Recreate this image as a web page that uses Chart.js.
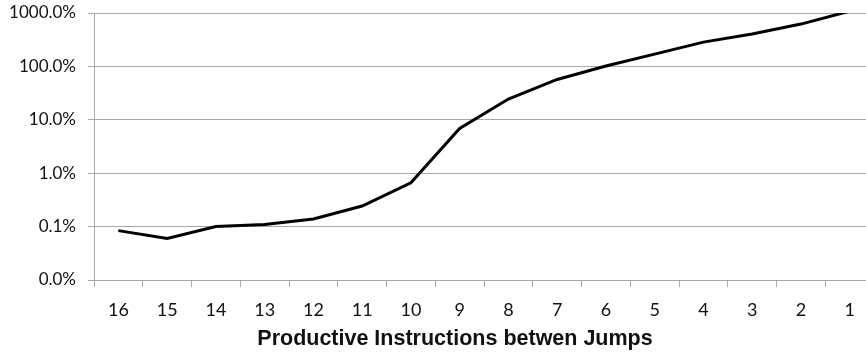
<!DOCTYPE html>
<html>
<head>
<meta charset="utf-8">
<script src="https://cdn.jsdelivr.net/npm/chart.js@4/dist/chart.umd.min.js"></script>
<style>
  html, body { margin: 0; padding: 0; background: #fff; overflow: hidden; }
  #wrap { width: 880px; height: 352px; }
</style>
</head>
<body>
<div id="wrap"><canvas id="c" width="880" height="352"></canvas></div>
<script>
// Instructions between jumps (x categories, descending)
const categories = ['16', '15', '14', '13', '12', '11', '10', '9', '8', '7', '6', '5', '4', '3', '2', '1'];
// Overhead in percent (log scale)
const overhead = [0.084, 0.060, 0.100, 0.110, 0.139, 0.243, 0.66, 6.9, 24.5, 57, 102, 170, 285, 405, 620, 1080];
// Y tick values and their labels
const yTickValues = [0.01, 0.1, 1, 10, 100, 1000];
const yTickLabels = ['0.0%', '0.1%', '1.0%', '10.0%', '100.0%', '1000.0%'];
const xTitle = 'Productive Instructions betwen Jumps';

const gridGrey = '#a8a8a8';
const tickFontY = { family: 'Lato, "Open Sans", sans-serif', size: 17 };
const tickFontX = { family: 'Lato, "Open Sans", sans-serif', size: 18 };

// Axis title drawn below the category labels, centred under the visible plot
const axisTitle = {
  id: 'axisTitle',
  afterDraw(chart) {
    const { ctx, chartArea } = chart;
    const visibleRight = Math.min(chartArea.right, 866 - 54);
    ctx.save();
    ctx.font = 'bold 21.5px "Liberation Sans", Arial, sans-serif';
    ctx.fillStyle = '#111';
    ctx.textAlign = 'center';
    ctx.textBaseline = 'middle';
    ctx.fillText(xTitle, (chartArea.left + visibleRight) / 2 + 2, 339);
    ctx.restore();
  }
};

new Chart(document.getElementById('c'), {
  type: 'line',
  data: {
    labels: categories,
    datasets: [{
      data: overhead,
      borderColor: '#000',
      borderWidth: 3,
      pointRadius: 0,
      tension: 0,
      fill: false,
      clip: 0
    }]
  },
  plugins: [axisTitle],
  options: {
    responsive: false,
    animation: false,
    layout: { padding: { left: 0, right: 6, top: 13, bottom: 0 } },
    plugins: { legend: { display: false }, tooltip: { enabled: false } },
    scales: {
      x: {
        type: 'category',
        offset: true,
        grid: {
          offset: true,
          drawOnChartArea: false,
          drawTicks: true,
          tickLength: 7,
          color: gridGrey,
          lineWidth: 1
        },
        border: { display: true, color: gridGrey, width: 1 },
        ticks: { color: '#111', font: tickFontX, padding: 12, maxRotation: 0, autoSkip: false },
        afterFit: (s) => { s.height = 72; s.paddingLeft = 0; s.paddingRight = 0; }
      },
      y: {
        type: 'logarithmic',
        min: 0.01,
        max: 1000,
        afterBuildTicks: (s) => { s.ticks = yTickValues.map(v => ({ value: v })); },
        grid: { color: gridGrey, lineWidth: 1, tickLength: 6 },
        border: { display: true, color: gridGrey, width: 1 },
        ticks: {
          color: '#111',
          font: tickFontY,
          padding: 12,
          callback: (v) => {
            const i = yTickValues.findIndex(t => Math.abs(t - v) / t < 1e-6);
            return i >= 0 ? yTickLabels[i] : '';
          }
        },
        afterFit: (s) => { s.width = 94; s.paddingTop = 0; s.paddingBottom = 0; }
      }
    }
  }
});
</script>
</body>
</html>
